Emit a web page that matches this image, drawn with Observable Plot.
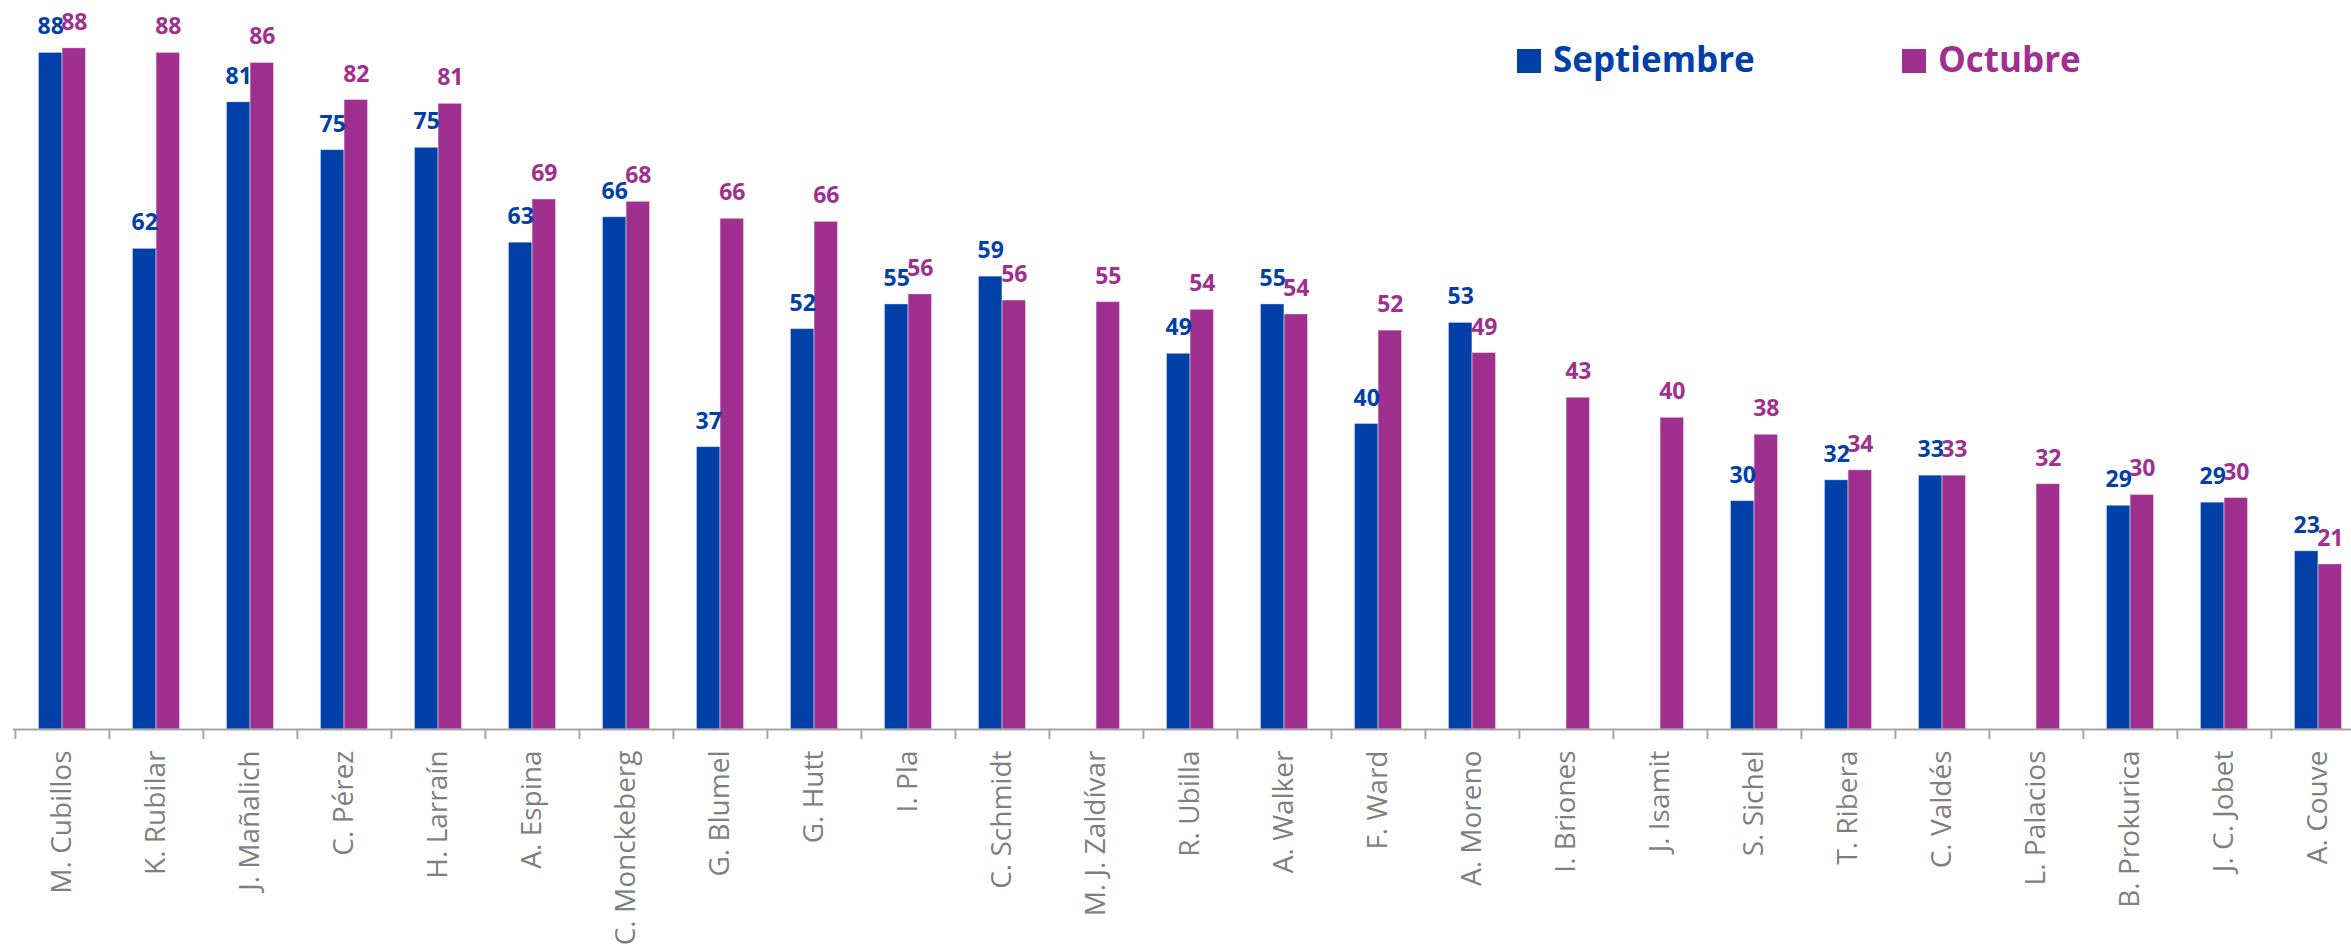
<!DOCTYPE html>
<html>
<head>
<meta charset="utf-8">
<script src="https://cdn.jsdelivr.net/npm/d3@7"></script>
<script src="https://cdn.jsdelivr.net/npm/@observablehq/plot@0.6"></script>
<style>
  html, body { margin: 0; padding: 0; background: #fff; overflow: hidden; }
  #wrap { position: relative; width: 2351px; height: 947px; overflow: hidden; }
  #legend { position: absolute; left: 0; top: 0; pointer-events: none; }
</style>
</head>
<body>
<div id="wrap"></div>
<script>
// ---- Data (labels show the rounded value) ----
const names = ["M. Cubillos","K. Rubilar","J. Mañalich","C. Pérez","H. Larraín","A. Espina","C. Monckeberg","G. Blumel","G. Hutt","I. Pla","C. Schmidt","M. J. Zaldívar","R. Ubilla","A. Walker","F. Ward","A. Moreno","I. Briones","J. Isamit","S. Sichel","T. Ribera","C. Valdés","L. Palacios","B. Prokurica","J. C. Jobet","A. Couve"];
const septiembre = [87.7,62.3,81.3,75.1,75.4,63.1,66.4,36.6,51.9,55.1,58.7,null,48.7,55.1,39.6,52.7,null,null,29.6,32.3,32.9,null,29.0,29.4,23.1];
const octubre    = [88.3,87.7,86.4,81.6,81.1,68.7,68.4,66.2,65.8,56.4,55.6,55.4,54.4,53.8,51.7,48.8,43.0,40.4,38.2,33.6,32.9,31.8,30.4,30.0,21.4];
const seriesNames = ["Septiembre","Octubre"];
const seriesColors = ["#0040a8","#a0308f"];

// ---- Build tables ----
const sepData = names.map((n,i)=>({name:n, value:septiembre[i]})).filter(d=>d.value!=null);
const octData = names.map((n,i)=>({name:n, value:octubre[i]})).filter(d=>d.value!=null);

const W = 2351, H = 947;
const x0 = 12.7, step = 94.2;
const xRange = [x0, x0 + step*names.length];
const bw = step;
const barW = 23.6;

const labelFont = {fontFamily: "'Open Sans', sans-serif", fontWeight: "bold", fontSize: 23};
const fmt = d => String(Math.round(d.value));

const chart = Plot.plot({
  width: W,
  height: H,
  marginLeft: x0,
  marginRight: 0,
  marginTop: 0,
  marginBottom: 218,
  style: {overflow: "hidden", background: "white"},
  x: {domain: names, range: xRange, padding: 0, axis: null},
  y: {domain: [0, 94.5], axis: null},
  marks: [
    Plot.barY(sepData, {x: "name", y: "value", fill: seriesColors[0], insetLeft: bw/2 - barW, insetRight: bw/2, stroke: "#ffffff", strokeOpacity: 0.35, strokeWidth: 1}),
    Plot.barY(octData, {x: "name", y: "value", fill: seriesColors[1], insetLeft: bw/2, insetRight: bw/2 - barW, stroke: "#ffffff", strokeOpacity: 0.35, strokeWidth: 1}),
    Plot.text(sepData, {x: "name", y: "value", text: fmt, dx: -barW/2, dy: -18.5, lineAnchor: "bottom", fill: seriesColors[0], ...labelFont}),
    Plot.text(octData, {x: "name", y: "value", text: fmt, dx: barW/2, dy: -18.5, lineAnchor: "bottom", fill: seriesColors[1], ...labelFont}),
    Plot.ruleY([0], {stroke: "#a6a6a6", strokeWidth: 2}),
    Plot.axisX({anchor: "bottom", tickSize: 10, text: null, dx: -bw/2, stroke: "#a6a6a6", strokeWidth: 2, label: null}),
    Plot.axisX({anchor: "bottom", tickSize: 0, tickPadding: 21, tickRotate: -90, fill: "#7f7f7f", fontFamily: "'Open Sans', sans-serif", fontSize: 28, label: null})
  ]
});
document.getElementById("wrap").appendChild(chart);

// ---- Legend (positioned over the top-right of the chart) ----
const ns = "http://www.w3.org/2000/svg";
const leg = document.createElementNS(ns, "svg");
leg.setAttribute("id", "legend");
leg.setAttribute("width", W);
leg.setAttribute("height", 120);
const legendX = [1517, 1902];
seriesNames.forEach((s, i) => {
  const r = document.createElementNS(ns, "rect");
  r.setAttribute("x", legendX[i]);
  r.setAttribute("y", 49);
  r.setAttribute("width", 24);
  r.setAttribute("height", 24);
  r.setAttribute("fill", seriesColors[i]);
  leg.appendChild(r);
  const t = document.createElementNS(ns, "text");
  t.setAttribute("x", legendX[i] + 36);
  t.setAttribute("y", 71.7);
  t.setAttribute("fill", seriesColors[i]);
  t.setAttribute("font-family", "'Open Sans', sans-serif");
  t.setAttribute("font-weight", "bold");
  t.setAttribute("font-size", 35);
  t.textContent = s;
  leg.appendChild(t);
});
document.getElementById("wrap").appendChild(leg);
</script>
</body>
</html>
